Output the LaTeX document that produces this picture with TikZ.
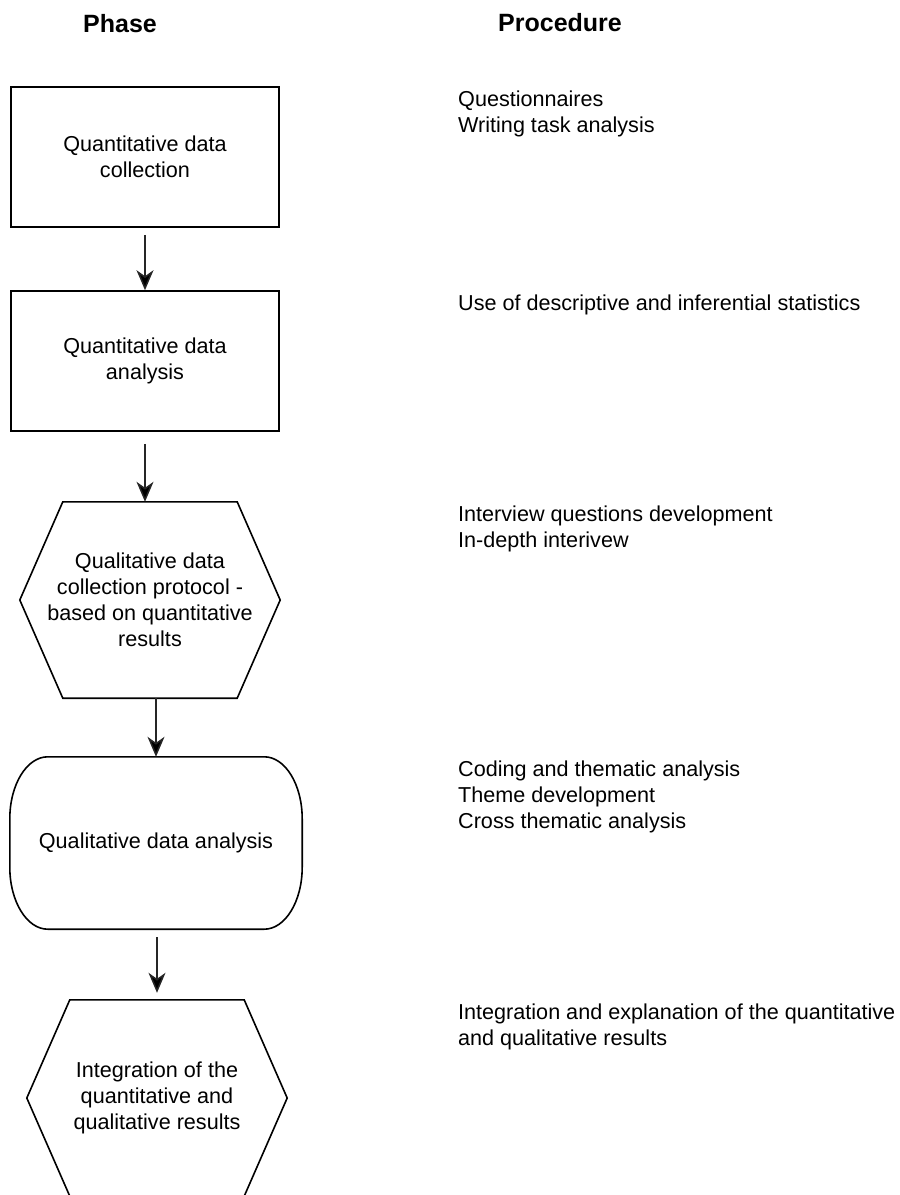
\documentclass[tikz,border=0pt]{standalone}
\usepackage{fontspec}
\setmainfont{Liberation Sans}
\usetikzlibrary{arrows.meta, calc}

\begin{document}
\begin{tikzpicture}[x=1pt, y=-1pt,
    phase/.style={align=center, inner sep=0pt, font=\fontsize{21.6}{25.9}\selectfont},
    proc/.style={align=left, anchor=north west, inner sep=0pt, font=\fontsize{21.6}{25.9}\selectfont},
    head/.style={inner sep=0pt, font=\fontsize{25}{30}\selectfont\bfseries},
    outline/.style={draw=black, line width=1.6pt},
    flow/.style={draw=black!85, line width=1.5pt, -{Stealth[length=20pt, width=17pt, inset=6pt, fill=black]}}]
    \useasboundingbox (0,0) rectangle (900,1195);

    % Column headers
    \node[head] (phasehead) at (120,24) {Phase};
    \node[head] (prochead) at (560,23) {Procedure};

    % Quantitative data collection
    \node[phase, outline, minimum width=268pt, minimum height=140pt] (qcoll) at (145,157) {Quantitative data\\collection};
    \node[proc] (pcoll) at (458,91) {Questionnaires\\Writing task analysis};

    % Quantitative data analysis
    \node[phase, outline, minimum width=268pt, minimum height=140pt] (qana) at (145,361) {Quantitative data\\analysis};
    \node[proc] (pana) at (458,295) {Use of descriptive and inferential statistics};

    % Qualitative protocol (hexagon)
    \node[phase, minimum width=260pt, minimum height=196pt] (prot) at (150,600) {Qualitative data\\collection protocol -\\based on quantitative\\results};
    \draw[outline] (prot.west) -- ([xshift=43pt]prot.north west) -- ([xshift=-43pt]prot.north east)
        -- (prot.east) -- ([xshift=-43pt]prot.south east) -- ([xshift=43pt]prot.south west) -- cycle;
    \node[proc] (pprot) at (458,506) {Interview questions development\\In-depth interivew};

    % Qualitative data analysis (rounded)
    \node[phase, minimum width=292pt, minimum height=172pt] (lana) at (156,843) {Qualitative data analysis};
    \draw[outline] ([xshift=38pt]lana.north west) -- ([xshift=-38pt]lana.north east)
        arc[start angle=90, end angle=0, x radius=38pt, y radius=62pt] -- ([yshift=62pt]lana.south east)
        arc[start angle=0, end angle=-90, x radius=38pt, y radius=62pt] -- ([xshift=38pt]lana.south west)
        arc[start angle=270, end angle=180, x radius=38pt, y radius=62pt] -- ([yshift=-62pt]lana.north west)
        arc[start angle=180, end angle=90, x radius=38pt, y radius=62pt] -- cycle;
    \node[proc] (plana) at (458,761) {Coding and thematic analysis\\Theme development\\Cross thematic analysis};

    % Integration (hexagon, cut by page)
    \node[phase, minimum width=260pt, minimum height=196pt] (integ) at (157,1098) {Integration of the\\quantitative and\\qualitative results};
    \draw[outline] (integ.west) -- ([xshift=43pt]integ.north west) -- ([xshift=-43pt]integ.north east)
        -- (integ.east) -- ([xshift=-43pt]integ.south east) -- ([xshift=43pt]integ.south west) -- cycle;
    \node[proc] (pinteg) at (458,1004) {Integration and explanation of the quantitative\\and qualitative results};

    % Arrows
    \draw[flow, shorten <=7pt] (qcoll.south) -- (qana.north);
    \draw[flow, shorten <=12pt] (qana.south) -- (qana.south |- prot.north);
    \draw[flow] (lana.north |- prot.south) -- (lana.north);
    \draw[flow, shorten <=8pt, shorten >=7pt] (integ.north |- lana.south) -- (integ.north);
\end{tikzpicture}
\end{document}
